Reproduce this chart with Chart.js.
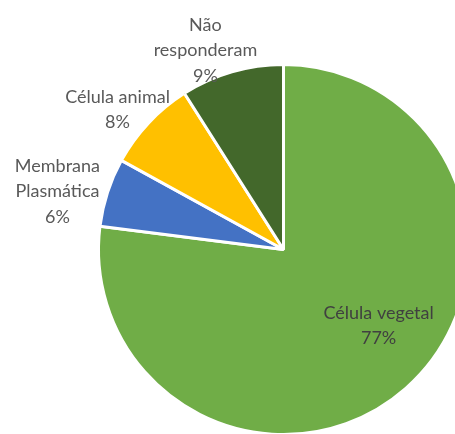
<!DOCTYPE html>
<html>
<head>
<meta charset="utf-8">
<script src="https://cdn.jsdelivr.net/npm/chart.js@4.4.1/dist/chart.umd.min.js"></script>
<style>
  html, body { margin: 0; padding: 0; background: #ffffff; overflow: hidden; width: 455px; height: 434px; }
  #wrap { position: absolute; left: 0; top: 0; width: 600px; height: 600px; }
</style>
</head>
<body>
<div id="wrap"><canvas id="c" width="600" height="600"></canvas></div>
<script>
const categories = ["Célula vegetal", "Membrana Plasmática", "Célula animal", "Não responderam"];
const labelLines = [["Célula vegetal"], ["Membrana", "Plasmática"], ["Célula animal"], ["Não", "responderam"]];
const values = [77, 6, 8, 9];
const colors = ["#70AD47", "#4472C4", "#FFC000", "#43682B"];

// label block centres, in units of the pie radius, relative to the pie centre
const labelOffsets = [[0.514, 0.411], [-1.222, -0.314], [-0.897, -0.757], [-0.422, -1.076]];
const labelColors = ["#404040", "#595959", "#595959", "#595959"];

const labelPlugin = {
  id: 'sliceLabels',
  afterDatasetsDraw(chart) {
    const ctx = chart.ctx;
    const meta = chart.getDatasetMeta(0);
    const total = values.reduce((a, b) => a + b, 0);
    ctx.save();
    ctx.font = '18px Lato, "Noto Sans", sans-serif';
    ctx.textAlign = 'center';
    ctx.textBaseline = 'middle';
    const lh = 25.5;
    meta.data.forEach((arc, i) => {
      const r = arc.outerRadius;
      const cx = arc.x + labelOffsets[i][0] * r;
      const cy = arc.y + labelOffsets[i][1] * r;
      const lines = labelLines[i].concat([Math.round(values[i] / total * 100) + '%']);
      const startY = cy - (lines.length - 1) * lh / 2;
      ctx.fillStyle = labelColors[i];
      lines.forEach((t, j) => ctx.fillText(t, cx, startY + j * lh));
    });
    ctx.restore();
  }
};

new Chart(document.getElementById('c'), {
  type: 'pie',
  data: {
    labels: categories,
    datasets: [{
      data: values,
      backgroundColor: colors,
      borderColor: '#ffffff',
      borderWidth: 3
    }]
  },
  options: {
    responsive: false,
    animation: false,
    layout: { padding: { left: 97, top: 63, right: 600 - 97 - 373, bottom: 600 - 63 - 373 } },
    plugins: {
      legend: { display: false },
      tooltip: { enabled: false }
    }
  },
  plugins: [labelPlugin]
});
</script>
</body>
</html>
